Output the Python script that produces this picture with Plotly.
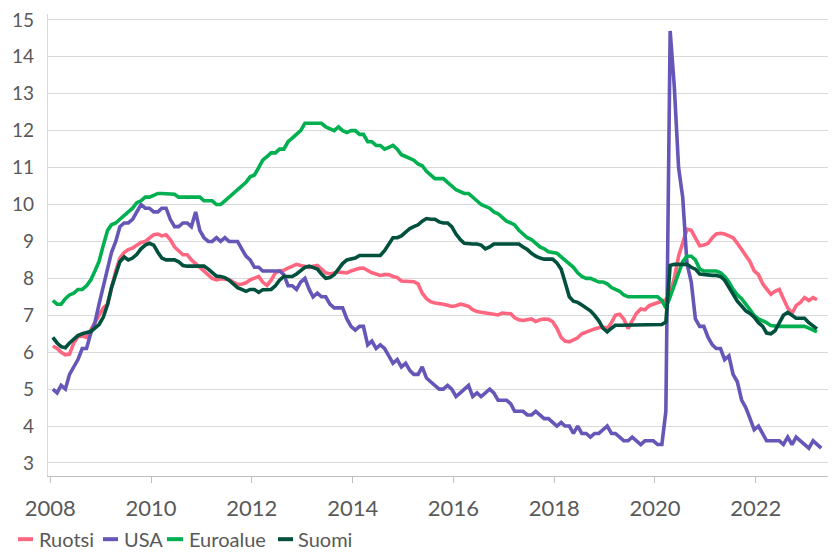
import pandas as pd
import plotly.graph_objects as go

# Monthly unemployment rates (%) from Jan 2008
ruotsi = [6.17, 6.1, 6.0, 5.93, 5.95, 6.25, 6.42, 6.44, 6.4, 6.6, 6.8, 7.0,
          7.2, 7.3, 7.75, 8.2, 8.55, 8.7, 8.78, 8.82, 8.9, 8.97, 9.0, 9.1,
          9.18, 9.2, 9.15, 9.18, 9.05, 8.85, 8.75, 8.64, 8.64, 8.5, 8.4, 8.3,
          8.2, 8.1, 8.0, 7.96, 7.99, 7.98, 7.97, 7.9, 7.84, 7.84, 7.88, 7.96,
          8.0, 8.05, 7.9, 7.81, 7.95, 8.15, 8.2, 8.22, 8.28, 8.32, 8.38, 8.35,
          8.33, 8.3, 8.33, 8.35, 8.25, 8.15, 8.12, 8.15, 8.17, 8.16, 8.15, 8.2,
          8.24, 8.27, 8.28, 8.2, 8.15, 8.12, 8.08, 8.1, 8.1, 8.05, 8.02, 7.93,
          7.92, 7.91, 7.91, 7.85, 7.6, 7.45, 7.37, 7.33, 7.32, 7.3, 7.27, 7.24,
          7.26, 7.3, 7.28, 7.24, 7.15, 7.1, 7.08, 7.07, 7.06, 7.03, 7.01, 7.06,
          7.05, 7.04, 6.93, 6.88, 6.86, 6.88, 6.9, 6.83, 6.88, 6.9, 6.89, 6.83,
          6.65, 6.4, 6.3, 6.28, 6.33, 6.39, 6.5, 6.55, 6.6, 6.63, 6.66, 6.68,
          6.64, 6.8, 7.0, 7.03, 6.9, 6.64, 6.85, 7.05, 7.17, 7.15, 7.26, 7.3,
          7.35, 7.4, 7.42, 7.6, 8.0, 8.6, 9.0, 9.33, 9.3, 9.1, 8.88, 8.9,
          8.95, 9.1, 9.2, 9.22, 9.2, 9.15, 9.1, 8.95, 8.78, 8.65, 8.45, 8.2,
          8.1, 7.85, 7.7, 7.57, 7.65, 7.7, 7.45, 7.2, 7.05, 7.26, 7.35, 7.48,
          7.4, 7.48, 7.42]

usa = [5.0, 4.9, 5.1, 5.0, 5.4, 5.6, 5.8, 6.1, 6.1, 6.5, 6.8, 7.3,
       7.8, 8.3, 8.7, 9.0, 9.4, 9.5, 9.5, 9.6, 9.8, 10.0, 9.9, 9.9,
       9.8, 9.8, 9.9, 9.9, 9.6, 9.4, 9.4, 9.5, 9.5, 9.4, 9.8, 9.3,
       9.1, 9.0, 9.0, 9.1, 9.0, 9.1, 9.0, 9.0, 9.0, 8.8, 8.6, 8.5,
       8.3, 8.3, 8.2, 8.2, 8.2, 8.2, 8.2, 8.1, 7.8, 7.8, 7.7, 7.9,
       8.0, 7.7, 7.5, 7.6, 7.5, 7.5, 7.3, 7.2, 7.2, 7.2, 6.9, 6.7,
       6.6, 6.7, 6.7, 6.2, 6.3, 6.1, 6.2, 6.1, 5.9, 5.7, 5.8, 5.6,
       5.7, 5.5, 5.4, 5.4, 5.6, 5.3, 5.2, 5.1, 5.0, 5.0, 5.1, 5.0,
       4.8, 4.9, 5.0, 5.1, 4.8, 4.9, 4.8, 4.9, 5.0, 4.9, 4.7, 4.7,
       4.7, 4.6, 4.4, 4.4, 4.4, 4.3, 4.3, 4.4, 4.3, 4.2, 4.2, 4.1,
       4.0, 4.1, 4.0, 4.0, 3.8, 4.0, 3.8, 3.8, 3.7, 3.8, 3.8, 3.9,
       4.0, 3.8, 3.8, 3.7, 3.6, 3.6, 3.7, 3.6, 3.5, 3.6, 3.6, 3.6,
       3.5, 3.5, 4.4, 14.7, 13.2, 11.0, 10.2, 8.4, 7.9, 6.9, 6.7, 6.7,
       6.4, 6.2, 6.1, 6.1, 5.8, 5.9, 5.4, 5.2, 4.7, 4.5, 4.2, 3.9,
       4.0, 3.8, 3.6, 3.6, 3.6, 3.6, 3.5, 3.7, 3.5, 3.7, 3.6, 3.5,
       3.4, 3.6, 3.5, 3.4]

euroalue = [7.4, 7.3, 7.3, 7.45, 7.55, 7.6, 7.7, 7.7, 7.8, 7.95, 8.2, 8.46,
            8.9, 9.3, 9.45, 9.5, 9.6, 9.7, 9.8, 9.9, 10.05, 10.1, 10.2, 10.2,
            10.25, 10.3, 10.3, 10.3, 10.3, 10.28, 10.2, 10.2, 10.2, 10.2, 10.2, 10.2,
            10.1, 10.1, 10.1, 10.0, 10.0, 10.1, 10.2, 10.3, 10.4, 10.5, 10.6, 10.75,
            10.8, 11.0, 11.2, 11.3, 11.4, 11.4, 11.5, 11.5, 11.7, 11.8, 11.9, 12.0,
            12.2, 12.2, 12.2, 12.2, 12.2, 12.1, 12.05, 12.0, 12.1, 12.0, 11.95, 12.0,
            12.0, 11.9, 11.9, 11.7, 11.7, 11.6, 11.6, 11.5, 11.55, 11.6, 11.5, 11.35,
            11.3, 11.25, 11.2, 11.1, 11.05, 10.9, 10.8, 10.7, 10.7, 10.7, 10.6, 10.5,
            10.4, 10.35, 10.3, 10.3, 10.2, 10.1, 10.0, 9.95, 9.9, 9.8, 9.75, 9.65,
            9.55, 9.5, 9.45, 9.3, 9.2, 9.1, 9.05, 8.95, 8.85, 8.8, 8.72, 8.7,
            8.68, 8.58, 8.5, 8.4, 8.3, 8.15, 8.05, 8.0, 8.0, 7.95, 7.9, 7.9,
            7.85, 7.75, 7.7, 7.65, 7.55, 7.5, 7.5, 7.5, 7.5, 7.5, 7.5, 7.5,
            7.5, 7.4, 7.2, 7.5, 7.8, 8.1, 8.45, 8.6, 8.6, 8.5, 8.25, 8.2,
            8.2, 8.2, 8.2, 8.15, 8.05, 7.9, 7.7, 7.55, 7.45, 7.3, 7.15, 7.0,
            6.9, 6.85, 6.8, 6.72, 6.7, 6.7, 6.7, 6.7, 6.7, 6.7, 6.7, 6.7,
            6.65, 6.6, 6.55]

suomi = [6.4, 6.25, 6.15, 6.12, 6.25, 6.35, 6.45, 6.5, 6.53, 6.56, 6.65, 6.75,
         6.95, 7.3, 7.75, 8.15, 8.45, 8.58, 8.5, 8.55, 8.65, 8.8, 8.9, 8.95,
         8.9, 8.7, 8.55, 8.5, 8.5, 8.5, 8.45, 8.35, 8.33, 8.33, 8.33, 8.33,
         8.33, 8.25, 8.15, 8.06, 8.05, 8.02, 7.95, 7.85, 7.75, 7.7, 7.65, 7.7,
         7.7, 7.62, 7.69, 7.69, 7.7, 7.8, 7.95, 8.05, 8.05, 8.05, 8.12, 8.2,
         8.3, 8.33, 8.3, 8.25, 8.12, 8.0, 8.02, 8.1, 8.25, 8.4, 8.5, 8.53,
         8.55, 8.62, 8.62, 8.62, 8.62, 8.62, 8.62, 8.75, 8.95, 9.1, 9.1, 9.15,
         9.25, 9.35, 9.4, 9.45, 9.55, 9.62, 9.6, 9.6, 9.53, 9.5, 9.5, 9.4,
         9.2, 9.05, 8.95, 8.93, 8.93, 8.93, 8.9, 8.8, 8.85, 8.93, 8.93, 8.93,
         8.93, 8.93, 8.93, 8.93, 8.85, 8.78, 8.68, 8.6, 8.55, 8.52, 8.52, 8.52,
         8.42, 8.25, 7.9, 7.5, 7.38, 7.35, 7.28, 7.2, 7.12, 7.0, 6.85, 6.65,
         6.55, 6.65, 6.73, 6.73, 6.73, 6.73, 6.73, 6.73, 6.73, 6.73, 6.73, 6.73,
         6.73, 6.75, 6.82, 8.35, 8.38, 8.38, 8.4, 8.38, 8.3, 8.25, 8.12, 8.1,
         8.08, 8.08, 8.08, 8.05, 7.95, 7.75, 7.55, 7.38, 7.25, 7.12, 7.05, 6.95,
         6.8, 6.7, 6.52, 6.5, 6.58, 6.8, 7.0, 7.08, 7.0, 6.92, 6.92, 6.92,
         6.8, 6.72, 6.63]

series_names = ["Ruotsi", "USA", "Euroalue", "Suomi"]
series_values = [ruotsi, usa, euroalue, suomi]
series_colors = ["#ff6680", "#6656b8", "#00b050", "#00503e"]

tick_years = list(range(2008, 2023, 2))
y_ticks = list(range(3, 16))

start = pd.Timestamp("2008-01-01")
def dates(n):
    return [start + pd.DateOffset(months=i) + pd.Timedelta(days=19) for i in range(n)]

fig = go.Figure()
for name, vals, col in zip(series_names, series_values, series_colors):
    fig.add_trace(go.Scatter(x=dates(len(vals)), y=vals, name=name, mode="lines",
                             line=dict(color=col, width=3.6), showlegend=False))

text_col = "#595959"
font_family = "Lato, 'Open Sans', sans-serif"

# The page body adds an 8px offset; the figure is sized to fill the rest
OFF = 8
FIG_W, FIG_H = 836 - OFF, 553 - OFF
M_L, M_B = 48 - OFF, 77
plot_w = FIG_W - M_L
plot_h = FIG_H - M_B

fig.update_layout(
    width=FIG_W, height=FIG_H,
    margin=dict(l=M_L, r=0, t=0, b=M_B, pad=0),
    paper_bgcolor="white", plot_bgcolor="white",
    font=dict(family=font_family, color=text_col),
    xaxis=dict(
        type="date",
        range=["2007-12-16", "2023-08-05"],
        tickvals=[f"{y}-01-01" for y in tick_years],
        ticktext=[str(y) for y in tick_years],
        ticks="outside", ticklen=6, tickwidth=1.3, tickcolor="#bfbfbf",
        showline=True, linecolor="#bfbfbf", linewidth=1.3,
        showgrid=False, zeroline=False,
        tickfont=dict(size=22, color=text_col, family=font_family),
        ticklabelstandoff=6,
    ),
    yaxis=dict(
        range=[2.647, 15.16],
        tickvals=y_ticks,
        ticktext=[str(v) for v in y_ticks],
        showgrid=True, gridcolor="#d9d9d9", gridwidth=1.3,
        showline=True, linecolor="#d9d9d9", linewidth=1.3,
        zeroline=False, ticks="",
        tickfont=dict(size=19, color=text_col, family=font_family),
        ticklabelstandoff=9,
        ticklabeloverflow="allow",
    ),
)

# Custom legend below the plot (Excel-style short line samples); page pixel positions
leg_line_px = [(18, 33), (103, 118), (167, 183), (278, 293)]
leg_text_px = [37, 122, 187, 296]
leg_y_px = 540
leg_y = (plot_h - (leg_y_px - OFF)) / plot_h
for name, col, (x0, x1), tx in zip(series_names, series_colors, leg_line_px, leg_text_px):
    fig.add_shape(type="line", xref="paper", yref="paper",
                  x0=(x0 - OFF - M_L) / plot_w, x1=(x1 - OFF - M_L) / plot_w,
                  y0=leg_y, y1=leg_y,
                  line=dict(color=col, width=4))
    fig.add_annotation(xref="paper", yref="paper", x=(tx - OFF - M_L) / plot_w, y=leg_y,
                       text=name, showarrow=False, xanchor="left", yanchor="middle",
                       font=dict(size=20, color=text_col, family=font_family))

fig.write_html("out.html")
